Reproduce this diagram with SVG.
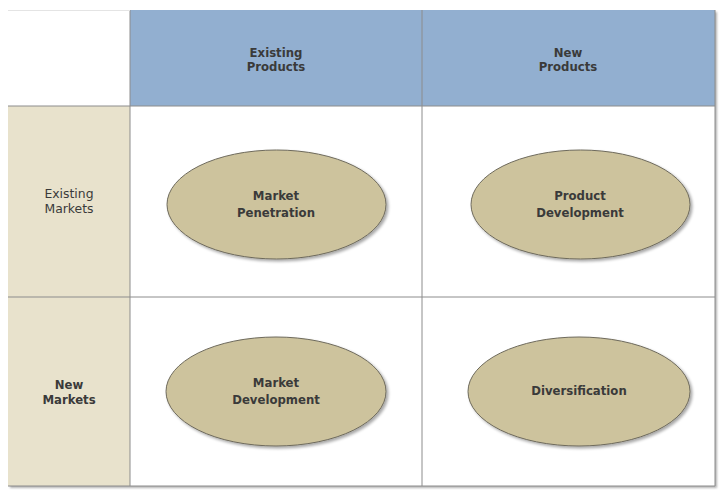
<svg xmlns="http://www.w3.org/2000/svg" width="723" height="495" viewBox="0 0 723 495">
<defs>
<filter id="sh" x="-10%" y="-10%" width="125%" height="130%">
<feGaussianBlur in="SourceAlpha" stdDeviation="1.5"/>
<feOffset dx="2" dy="2" result="b"/>
<feComponentTransfer><feFuncA type="linear" slope="0.35"/></feComponentTransfer>
<feMerge><feMergeNode/><feMergeNode in="SourceGraphic"/></feMerge>
</filter>
<filter id="fsh" x="-5%" y="-5%" width="110%" height="110%">
<feGaussianBlur in="SourceAlpha" stdDeviation="1.2"/>
<feOffset dx="1.5" dy="1.5"/>
<feComponentTransfer><feFuncA type="linear" slope="0.3"/></feComponentTransfer>
<feMerge><feMergeNode/><feMergeNode in="SourceGraphic"/></feMerge>
</filter>
</defs>
<style>
.t{font-family:"DejaVu Sans",Verdana,sans-serif;font-size:11.7px;fill:#3a3a3a;text-anchor:middle}
.b{font-weight:bold}
.n{font-size:12.4px}
.grid{stroke:#8c8c8c;stroke-width:1;fill:none}
.ell{fill:#cdc39d;stroke:#6e6a5c;stroke-width:1}
</style>
<rect width="723" height="495" fill="#ffffff"/>
<g id="frame" filter="url(#fsh)">
<rect x="8" y="10" width="707" height="476" fill="#ffffff"/>
</g>
<rect x="8" y="10" width="122" height="96" fill="#ffffff"/>
<g id="header-existing-products">
<rect x="130" y="10" width="292" height="96" fill="#92afd0"/>
<text class="t b" x="276" y="57">Existing</text>
<text class="t b" x="276" y="71">Products</text>
</g>
<g id="header-new-products">
<rect x="422" y="10" width="293" height="96" fill="#92afd0"/>
<text class="t b" x="568" y="57">New</text>
<text class="t b" x="568" y="71">Products</text>
</g>
<g id="row-existing-markets">
<rect x="8" y="106" width="122" height="191" fill="#e8e2cc"/>
<text class="t n" x="69" y="198">Existing</text>
<text class="t n" x="69" y="213">Markets</text>
</g>
<g id="row-new-markets">
<rect x="8" y="297" width="122" height="189" fill="#e8e2cc"/>
<text class="t b" x="69" y="389">New</text>
<text class="t b" x="69" y="404">Markets</text>
</g>
<g id="connectors">
<line class="grid" x1="130" y1="10" x2="130" y2="486"/>
<line class="grid" x1="422" y1="10" x2="422" y2="486"/>
<line class="grid" x1="715" y1="10" x2="715" y2="486"/>
<line class="grid" x1="8" y1="106" x2="715" y2="106"/>
<line class="grid" x1="8" y1="297" x2="715" y2="297"/>
<line class="grid" x1="8" y1="486" x2="715" y2="486"/>
<line stroke="#e4e4e4" stroke-width="1" x1="8" y1="10.5" x2="130" y2="10.5"/>
</g>
<g id="market-penetration">
<ellipse class="ell" cx="276.5" cy="204.5" rx="109.5" ry="54.5" filter="url(#sh)"/>
<text class="t b" x="276" y="200">Market</text>
<text class="t b" x="276" y="217">Penetration</text>
</g>
<g id="product-development">
<ellipse class="ell" cx="580.5" cy="204.5" rx="109.5" ry="54.5" filter="url(#sh)"/>
<text class="t b" x="580" y="200">Product</text>
<text class="t b" x="580" y="217">Development</text>
</g>
<g id="market-development">
<ellipse class="ell" cx="276" cy="391.5" rx="110" ry="54.5" filter="url(#sh)"/>
<text class="t b" x="276" y="387">Market</text>
<text class="t b" x="276" y="404">Development</text>
</g>
<g id="diversification">
<ellipse class="ell" cx="579" cy="391.5" rx="111" ry="54.5" filter="url(#sh)"/>
<text class="t b" x="579" y="395">Diversification</text>
</g>
</svg>
